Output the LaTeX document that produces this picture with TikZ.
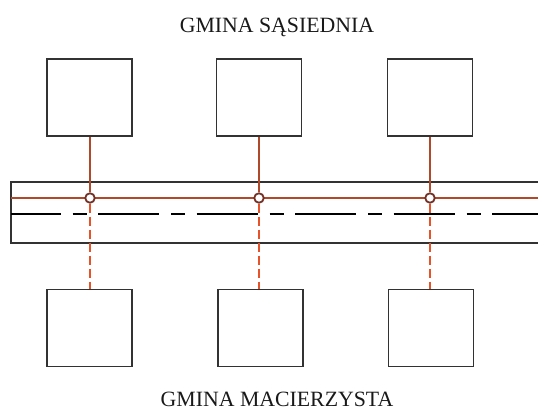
\documentclass[tikz,border=0pt]{standalone}
\usepackage{fontspec}
\setmainfont{Liberation Serif}
\usepackage{xcolor}
\usetikzlibrary{positioning,calc}

\definecolor{linegray}{RGB}{50,50,50}
\definecolor{wirered}{RGB}{178,72,42}
\definecolor{dashred}{RGB}{232,82,40}
\definecolor{ringbrown}{RGB}{115,48,36}

\tikzset{
	plot/.style={draw=linegray,line width=1.5pt,minimum width=85pt,minimum height=77pt,inner sep=0pt},
	roadline/.style={draw=linegray,line width=1.5pt},
	axisline/.style={draw=black,line width=1.4pt,dash pattern=on 61pt off 12pt on 14pt off 11.5pt,dash phase=11.5pt},
	wire/.style={draw=wirered,line width=1.3pt},
	drop/.style={draw=dashred,line width=1.4pt,dash pattern=on 9pt off 4pt},
	joint/.style={circle,draw=ringbrown,fill=white,line width=1.8pt,minimum size=9.5pt,inner sep=0pt},
	caption/.style={anchor=base,inner sep=0pt,text=black!90,font=\fontsize{21.8}{25}\selectfont}
}

\begin{document}
\begin{tikzpicture}[x=1pt,y=-1pt]
		\useasboundingbox (0,0) rectangle (538,410);
		\node[caption] (top) at (277,32) {GMINA SĄSIEDNIA};
		\node[caption] (bottom) at (277,406.5) {GMINA MACIERZYSTA};
		% road
		\draw[roadline] (538,182) -- (11,182) -- (11,243) -- (538,243);
			\draw[axisline] (11,214) -- (538,214);
		\coordinate (wl) at (11,198);
		\coordinate (wr) at (538,198);
			\draw[wire] (wl) -- (wr);
		% plots
		\node[plot] (t1) at (89.5,97.5) {};
		\node[plot] (t2) at (259,97.5) {};
		\node[plot] (t3) at (430,97.5) {};
		\node[plot] (b1) at (89.5,328) {};
		\node[plot] (b2) at (260.5,328) {};
		\node[plot] (b3) at (431,328) {};
		% connections
		\node[joint] (j1) at (90,198) {};
		\node[joint] (j2) at (259,198) {};
		\node[joint] (j3) at (430,198) {};
			\draw[wire] (j1 |- t1.south) -- (j1);
			\draw[wire] (j2 |- t2.south) -- (j2);
			\draw[wire] (j3 |- t3.south) -- (j3);
				\draw[drop] (j1) -- (j1 |- b1.north);
				\draw[drop] (j2) -- (j2 |- b2.north);
				\draw[drop] (j3) -- (j3 |- b3.north);
	\end{tikzpicture}
\end{document}
